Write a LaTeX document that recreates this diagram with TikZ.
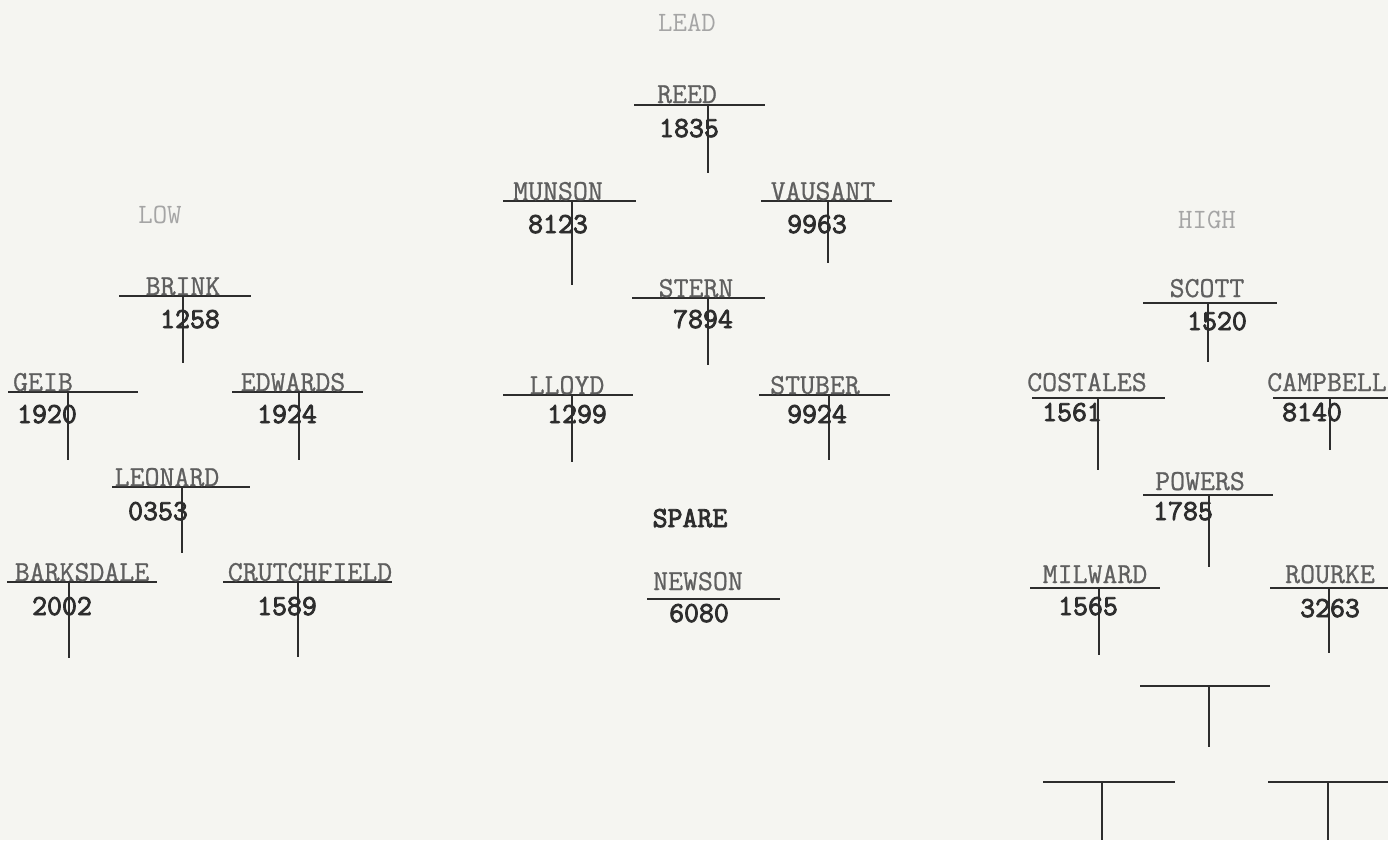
\documentclass[tikz,border=0pt]{standalone}
\usepackage{fontspec}
\newfontfamily\typefont{Latin Modern Mono}[FakeBold=0.8]
\newfontfamily\typeboldfont{Latin Modern Mono}[FakeBold=3]
\definecolor{paper}{RGB}{245,245,241}
\definecolor{ink}{RGB}{45,45,45}
\definecolor{inklight}{RGB}{95,95,95}
\definecolor{inkfaint}{RGB}{165,165,165}
\tikzset{
  wingline/.style={draw=ink, line width=1.1pt},
  bodyline/.style={draw=ink, line width=1.1pt},
  nm/.style={font=\typefont\fontsize{29}{29}\selectfont, text=inklight, inner sep=0pt, anchor=base},
  no/.style={font=\typeboldfont\fontsize{29}{29}\selectfont, text=ink, inner sep=0pt, anchor=base},
  grp/.style={font=\ttfamily\fontsize{28}{28}\selectfont, text=inkfaint, inner sep=0pt, anchor=base},
}
% #1 id, #2 left x, #3 right x, #4 wing y, #5 body x, #6 body bottom y
\newcommand\acwing[6]{%
  \coordinate (#1-l) at (#2,#4);
  \coordinate (#1-r) at (#3,#4);
  \coordinate (#1-t) at (#5,#4);
  \coordinate (#1-b) at (#5,#6);
  \draw[wingline] (#1-l) -- (#1-r);
  \draw[bodyline] (#1-t) -- (#1-b);}
% #1 id, #2 name x, #3 name base y, #4 number x, #5 number base y, #6 name, #7 number
\newcommand\actags[7]{%
  \node[nm] (#1-name) at (#2,#3) {#6};
  \node[no] (#1-num) at (#4,#5) {#7};}
\begin{document}
\begin{tikzpicture}[x=1pt,y=-1pt]
\fill[paper] (0,0) rectangle (1388,840);
\useasboundingbox (0,0) rectangle (1388,840);
\clip (0,0) rectangle (1388,840);

% group labels
\node[grp] (lead) at (687,32) {LEAD};
\node[grp] (low) at (160,223) {LOW};
\node[grp] (high) at (1207,228) {HIGH};

% LEAD flight
\acwing{reed}{634}{765}{105}{708}{173}
\actags{reed}{687}{103}{689}{137}{REED}{1835}
\acwing{munson}{503}{636}{201}{572}{285}
\actags{munson}{558}{200}{558}{233}{MUNSON}{8123}
\acwing{vausant}{761}{892}{201}{828}{263}
\actags{vausant}{823}{200}{817}{233}{VAUSANT}{9963}
\acwing{stern}{632}{765}{298}{708}{365}
\actags{stern}{696}{297}{703}{328}{STERN}{7894}
\acwing{lloyd}{503}{633}{395}{572}{462}
\actags{lloyd}{567}{394}{577}{423}{LLOYD}{1299}
\acwing{stuber}{759}{890}{395}{829}{460}
\actags{stuber}{815}{394}{817}{423}{STUBER}{9924}

% spare
\node[no] (spare) at (690,527) {SPARE};
\coordinate (newson-l) at (647,599);
\coordinate (newson-r) at (780,599);
\draw[wingline] (newson-l) -- (newson-r);
\actags{newson}{698}{590}{699}{622}{NEWSON}{6080}

% LOW flight
\acwing{brink}{119}{251}{296}{183}{363}
\actags{brink}{183}{295}{190}{328}{BRINK}{1258}
\acwing{geib}{8}{138}{392}{68}{460}
\actags{geib}{43}{391}{47}{423}{GEIB}{1920}
\acwing{edwards}{232}{363}{392}{299}{460}
\actags{edwards}{293}{391}{287}{423}{EDWARDS}{1924}
\acwing{leonard}{112}{250}{487}{182}{553}
\actags{leonard}{167}{486}{158}{520}{LEONARD}{0353}
\acwing{barksdale}{7}{157}{582}{69}{658}
\actags{barksdale}{82}{581}{62}{615}{BARKSDALE}{2002}
\acwing{crutch}{223}{392}{582}{298}{657}
\actags{crutch}{310}{581}{287}{615}{CRUTCHFIELD}{1589}

% HIGH flight
\acwing{scott}{1143}{1277}{303}{1208}{362}
\actags{scott}{1207}{297}{1217}{330}{SCOTT}{1520}
\acwing{costales}{1032}{1165}{398}{1098}{470}
\actags{costales}{1087}{391}{1072}{421}{COSTALES}{1561}
\acwing{campbell}{1273}{1388}{398}{1330}{450}
\actags{campbell}{1327}{391}{1312}{421}{CAMPBELL}{8140}
\acwing{powers}{1143}{1273}{495}{1209}{567}
\actags{powers}{1200}{490}{1183}{520}{POWERS}{1785}
\acwing{milward}{1030}{1160}{588}{1099}{655}
\actags{milward}{1095}{583}{1088}{615}{MILWARD}{1565}
\acwing{rourke}{1270}{1388}{588}{1329}{653}
\actags{rourke}{1330}{583}{1330}{617}{ROURKE}{3263}
\acwing{emptya}{1140}{1270}{686}{1209}{747}
\acwing{emptyb}{1043}{1175}{782}{1102}{840}
\acwing{emptyc}{1268}{1388}{782}{1328}{840}
\end{tikzpicture}
\end{document}
